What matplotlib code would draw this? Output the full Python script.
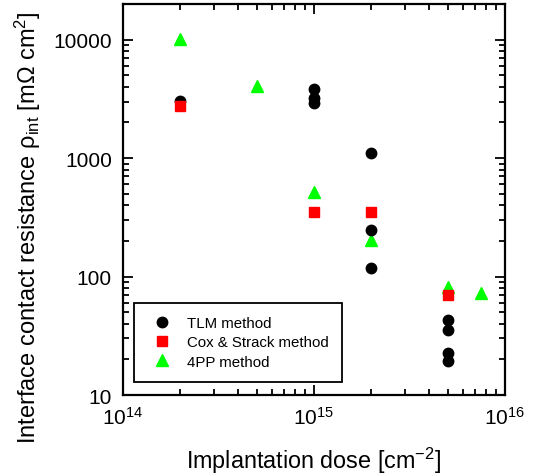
import numpy as np
import matplotlib
matplotlib.use("Agg")
import matplotlib.pyplot as plt
from matplotlib.ticker import LogLocator, NullFormatter, FixedLocator, FixedFormatter

plt.rcParams['font.family'] = ['Liberation Sans', 'DejaVu Sans']
plt.rcParams['mathtext.fontset'] = 'custom'
plt.rcParams['mathtext.rm'] = 'Liberation Sans'
plt.rcParams['mathtext.it'] = 'Liberation Sans'
plt.rcParams['mathtext.default'] = 'regular'

# TLM method
tlm_x = [2e14, 1e15, 1e15, 1e15, 2e15, 2e15, 2e15, 5e15, 5e15, 5e15, 5e15]
tlm_y = [3050, 3850, 3200, 2900, 1110, 248, 118, 43, 35.5, 22.5, 19.2]
# Cox & Strack method
cs_x = [2e14, 1e15, 2e15, 5e15]
cs_y = [2750, 350, 350, 70]
# 4PP method
pp_x = [2e14, 5e14, 1e15, 2e15, 5e15, 7.5e15]
pp_y = [10200, 4050, 515, 205, 82, 72]

fig = plt.figure(figsize=(5.33, 4.77), dpi=100)
ax = fig.add_axes([123/533, 1-396/477, (505-123)/533, (396-5)/477])

ax.plot(tlm_x, tlm_y, 'o', color='black', ms=7.5, mec='black', label='TLM method', zorder=3)
ax.plot(cs_x, cs_y, 's', color='#ff0000', ms=7, mec='#ff0000', label='Cox & Strack method', zorder=4)
ax.plot(pp_x, pp_y, '^', color='#00ff00', ms=8, mec='#00ff00', label='4PP method', zorder=2)

ax.set_xscale('log')
ax.set_yscale('log')
ax.set_xlim(1e14, 1e16)
ax.set_ylim(10, 20000)

ax.yaxis.set_major_locator(FixedLocator([10, 100, 1000, 10000]))
ax.yaxis.set_major_formatter(FixedFormatter(['10', '100', '1000', '10000']))
ax.yaxis.set_minor_locator(LogLocator(base=10, subs=np.arange(2, 10)))
ax.yaxis.set_minor_formatter(NullFormatter())
ax.xaxis.set_minor_locator(LogLocator(base=10, subs=np.arange(2, 10)))
ax.xaxis.set_minor_formatter(NullFormatter())

ax.tick_params(which='both', direction='in', top=True, right=True, width=1.3)
ax.tick_params(which='major', length=7, labelsize=15, pad=8)
ax.tick_params(which='minor', length=4)
for s in ax.spines.values():
    s.set_linewidth(1.6)

ax.set_xlabel('Implantation dose [cm$^{-2}$]', fontsize=16.8, labelpad=12)
ax.set_ylabel(r'Interface contact resistance $\rho_{int}$ [m$\Omega$ cm$^2$]', fontsize=17)
ax.yaxis.set_label_coords(-0.21, 0.43)

leg = ax.legend(loc='lower left', bbox_to_anchor=(0.028, 0.033), fontsize=10.8,
                fancybox=False, edgecolor='black', framealpha=1, borderpad=0.9,
                handlelength=2.0, handletextpad=0.63, labelspacing=0.35, borderaxespad=0)
leg.get_frame().set_linewidth(1.3)

fig.savefig('out.png', dpi=100)
